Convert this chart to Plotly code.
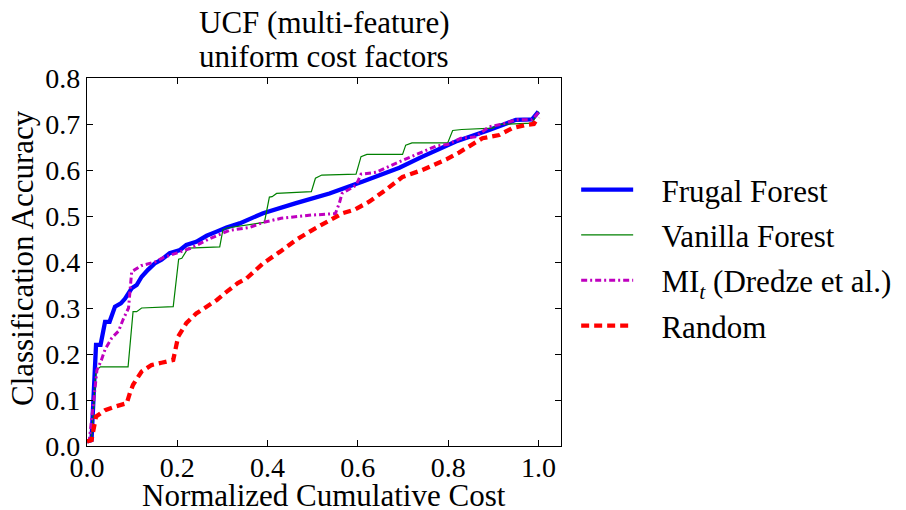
import plotly.graph_objects as go

# ---- data ----
frugal_x = [0.0, 0.01, 0.02, 0.03, 0.04, 0.05, 0.062, 0.075, 0.084, 0.099, 0.11, 0.121, 0.135, 0.15, 0.165,
            0.183, 0.206, 0.22, 0.242, 0.265, 0.287, 0.309, 0.338, 0.39, 0.463, 0.537, 0.611, 0.692, 0.743,
            0.817, 0.891, 0.95, 0.986, 1.0]
frugal_y = [0.01, 0.013, 0.22, 0.22, 0.27, 0.27, 0.303, 0.31, 0.32, 0.343, 0.35, 0.368, 0.383, 0.397, 0.405,
            0.419, 0.426, 0.437, 0.444, 0.457, 0.466, 0.475, 0.484, 0.506, 0.528, 0.549, 0.575, 0.605, 0.629,
            0.662, 0.687, 0.709, 0.71, 0.727]

vanilla_x = [0.0, 0.01, 0.02, 0.03, 0.091, 0.102, 0.11, 0.121, 0.191, 0.203, 0.21, 0.224, 0.294, 0.301, 0.31,
             0.338, 0.393, 0.404, 0.41, 0.42, 0.497, 0.506, 0.52, 0.596, 0.607, 0.62, 0.699, 0.706, 0.72,
             0.799, 0.81, 0.83, 0.898, 0.913, 0.986, 1.0]
vanilla_y = [0.01, 0.013, 0.165, 0.172, 0.172, 0.292, 0.292, 0.30, 0.303, 0.406, 0.408, 0.43, 0.433, 0.47, 0.474,
             0.478, 0.486, 0.541, 0.542, 0.549, 0.553, 0.582, 0.589, 0.591, 0.629, 0.634, 0.634, 0.654, 0.659,
             0.659, 0.686, 0.688, 0.691, 0.699, 0.702, 0.727]

mi_x = [0.0, 0.005, 0.015, 0.022, 0.032, 0.04, 0.055, 0.07, 0.08, 0.092, 0.099, 0.12, 0.15, 0.17, 0.2, 0.23,
        0.27, 0.316, 0.36, 0.39, 0.43, 0.47, 0.497, 0.55, 0.559, 0.565, 0.596, 0.607, 0.64, 0.692, 0.736,
        0.773, 0.80, 0.828, 0.86, 0.891, 0.92, 0.95, 0.986, 1.0]
mi_y = [0.01, 0.012, 0.10, 0.165, 0.187, 0.21, 0.235, 0.25, 0.275, 0.30, 0.379, 0.392, 0.40, 0.41, 0.42, 0.43,
        0.45, 0.469, 0.475, 0.486, 0.495, 0.50, 0.502, 0.505, 0.528, 0.549, 0.567, 0.591, 0.595, 0.618, 0.636,
        0.652, 0.656, 0.669, 0.672, 0.694, 0.70, 0.709, 0.709, 0.725]

random_x = [0.0, 0.01, 0.02, 0.04, 0.06, 0.088, 0.095, 0.102, 0.121, 0.143, 0.165, 0.191, 0.202, 0.22, 0.242,
            0.265, 0.287, 0.309, 0.334, 0.353, 0.39, 0.427, 0.463, 0.5, 0.537, 0.566, 0.593, 0.625, 0.662, 0.699,
            0.743, 0.78, 0.796, 0.824, 0.846, 0.876, 0.913, 0.942, 0.972, 0.99, 1.0]
random_y = [0.01, 0.013, 0.064, 0.078, 0.085, 0.093, 0.115, 0.133, 0.162, 0.176, 0.181, 0.187, 0.238, 0.267, 0.288,
            0.303, 0.317, 0.335, 0.354, 0.364, 0.397, 0.422, 0.448, 0.470, 0.491, 0.506, 0.514, 0.531, 0.557, 0.585,
            0.600, 0.615, 0.623, 0.638, 0.651, 0.669, 0.676, 0.691, 0.698, 0.70, 0.715]

x_ticks = [0.0, 0.2, 0.4, 0.6, 0.8, 1.0]
y_ticks = [0.0, 0.1, 0.2, 0.3, 0.4, 0.5, 0.6, 0.7, 0.8]

series_names = ["Frugal Forest", "Vanilla Forest", "MI<sub><i>t</i></sub> (Dredze et al.)", "Random"]
title_lines = ["UCF (multi-feature)", "uniform cost factors"]
x_title = "Normalized Cumulative Cost"
y_title = "Classification Accuracy"

FONT = "Liberation Serif"
PAD = "\u00a0\u00a0\u00a0"

fig = go.Figure()
fig.add_trace(go.Scatter(x=frugal_x, y=frugal_y, mode="lines", name=PAD + series_names[0],
                         line=dict(color="#0000ff", width=4.3), legendgroup="a"))
fig.add_trace(go.Scatter(x=vanilla_x, y=vanilla_y, mode="lines", name=PAD + series_names[1],
                         line=dict(color="#008000", width=1.2), legendgroup="b"))
fig.add_trace(go.Scatter(x=mi_x, y=mi_y, mode="lines", name=PAD + series_names[2],
                         line=dict(color="#bf00bf", width=3, dash="6px,3px,2px,3px"), legendgroup="c"))
fig.add_trace(go.Scatter(x=random_x, y=random_y, mode="lines", name=PAD + series_names[3],
                         line=dict(color="#ff0000", width=4.3, dash="8px,5px"), legendgroup="d"))

axis_common = dict(showgrid=False, zeroline=False, showline=True, linecolor="black", linewidth=1.3,
                   mirror="allticks", ticks="inside", ticklen=6, tickcolor="black", automargin=False,
                   tickfont=dict(family=FONT, size=28, color="black"))

fig.update_layout(
    width=898, height=502,
    paper_bgcolor="white", plot_bgcolor="white",
    margin=dict(l=79, r=345, t=70, b=64, autoexpand=False),
    xaxis=dict(range=[0, 1.05], tickvals=x_ticks, ticktext=["%.1f" % v for v in x_ticks],
               ticklabelstandoff=-4, **axis_common),
    yaxis=dict(range=[0, 0.8], tickvals=y_ticks, ticktext=["%.1f" % v for v in y_ticks],
               **axis_common),
    legend=dict(x=1.032, y=0.769, xanchor="left", yanchor="top",
                font=dict(family=FONT, size=31, color="black"),
                tracegroupgap=2, bgcolor="rgba(0,0,0,0)", itemwidth=52),
    showlegend=True,
    annotations=[
        dict(text=title_lines[0], xref="paper", yref="paper", x=0.5, y=1, xanchor="center",
             yanchor="bottom", yshift=36, showarrow=False, font=dict(family=FONT, size=31, color="black")),
        dict(text=title_lines[1], xref="paper", yref="paper", x=0.5, y=1, xanchor="center",
             yanchor="bottom", yshift=2, showarrow=False, font=dict(family=FONT, size=31, color="black")),
        dict(text=x_title, xref="paper", yref="paper", x=0.5, y=0, xanchor="center",
             yanchor="middle", yshift=-49, showarrow=False, font=dict(family=FONT, size=31, color="black")),
        dict(text=y_title, xref="paper", yref="paper", x=0, y=0.5, xanchor="center", textangle=-90,
             yanchor="middle", xshift=-65, yshift=4, showarrow=False,
             font=dict(family=FONT, size=31, color="black")),
    ],
)

fig.write_html("out.html")
